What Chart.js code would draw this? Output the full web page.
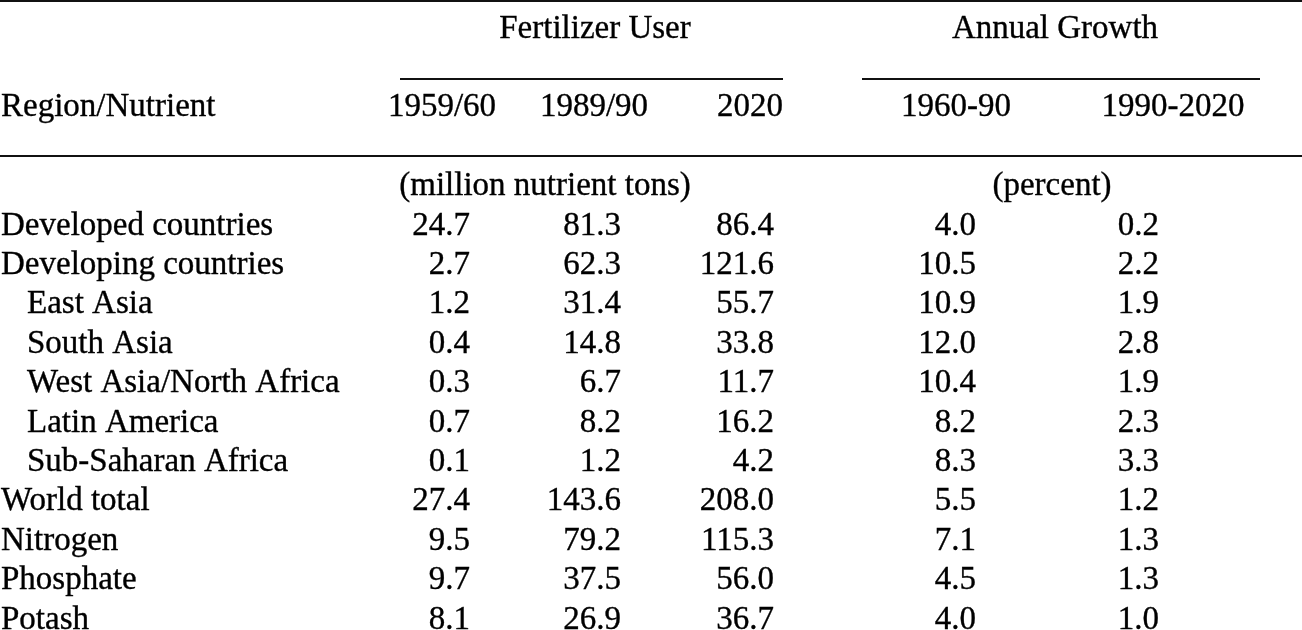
<!DOCTYPE html>
<html>
<head>
<meta charset="utf-8">
<script src="https://cdn.jsdelivr.net/npm/chart.js@4/dist/chart.umd.min.js"></script>
<style>
  html, body { margin: 0; padding: 0; background: #fff; }
  #wrap { width: 1302px; height: 630px; }
</style>
</head>
<body>
<div id="wrap"><canvas id="fertTable" width="1302" height="630"></canvas></div>
<script>
// table rows
const regions = [
  "Developed countries", "Developing countries", "East Asia", "South Asia",
  "West Asia/North Africa", "Latin America", "Sub-Saharan Africa",
  "World total", "Nitrogen", "Phosphate", "Potash"
];
const indented = [false, false, true, true, true, true, true, false, false, false, false];

// fertilizer use, million nutrient tons
const use1959 = [24.7, 2.7, 1.2, 0.4, 0.3, 0.7, 0.1, 27.4, 9.5, 9.7, 8.1];
const use1989 = [81.3, 62.3, 31.4, 14.8, 6.7, 8.2, 1.2, 143.6, 79.2, 37.5, 26.9];
const use2020 = [86.4, 121.6, 55.7, 33.8, 11.7, 16.2, 4.2, 208.0, 115.3, 56.0, 36.7];

// annual growth, percent
const growth6090 = [4.0, 10.5, 10.9, 12.0, 10.4, 8.2, 8.3, 5.5, 7.1, 4.5, 4.0];
const growth9020 = [0.2, 2.2, 1.9, 2.8, 1.9, 2.3, 3.3, 1.2, 1.3, 1.3, 1.0];

const groupLabels = ["Fertilizer User", "Annual Growth"];
const unitLabels = ["(million nutrient tons)", "(percent)"];
const yearLabels = ["1959/60", "1989/90", "2020"];
const growthLabels = ["1960-90", "1990-2020"];
const stubLabel = "Region/Nutrient";

// layout: x in pixels, y in row units (row i = data row, negatives = header)
const colRight = [470, 621, 774, 976, 1159];
const yearCenter = [442, 594, 750];
const growthCenter = [956, 1173];
const groupCenter = [595, 1055];
const unitCenter = [545, 1052];

const textColor = "#000";
const ruleColor = "#111";

function textSet(labels, xs, ys, align) {
  return {
    type: "scatter",
    data: labels.map((_, i) => ({ x: xs[i], y: ys[i] })),
    labels: labels,
    align: align,
    isText: true,
    pointRadius: 0,
    showLine: false
  };
}

function ruleSet(x0, x1, yv) {
  return {
    type: "scatter",
    data: [{ x: x0, y: yv }, { x: x1, y: yv }],
    showLine: true,
    borderColor: ruleColor,
    borderWidth: 2,
    pointRadius: 0
  };
}

const rowIdx = regions.map((_, i) => i);
const fmt = arr => arr.map(v => v.toFixed(1));

const datasets = [
  textSet(regions, regions.map((_, i) => indented[i] ? 27 : 1), rowIdx, "left"),
  textSet(fmt(use1959), rowIdx.map(() => colRight[0]), rowIdx, "right"),
  textSet(fmt(use1989), rowIdx.map(() => colRight[1]), rowIdx, "right"),
  textSet(fmt(use2020), rowIdx.map(() => colRight[2]), rowIdx, "right"),
  textSet(fmt(growth6090), rowIdx.map(() => colRight[3]), rowIdx, "right"),
  textSet(fmt(growth9020), rowIdx.map(() => colRight[4]), rowIdx, "right"),
  textSet(groupLabels, groupCenter, [-5, -5], "center"),
  textSet(yearLabels.concat(growthLabels), yearCenter.concat(growthCenter), [-3, -3, -3, -3, -3], "center"),
  textSet([stubLabel], [1], [-3], "left"),
  textSet(unitLabels, unitCenter, [-1, -1], "center"),
  ruleSet(0, 1302, -5.926),
  ruleSet(400, 783, -3.947),
  ruleSet(862, 1260, -3.947),
  ruleSet(0, 1302, -1.992)
];

// draws the cell texts at the positions the scales give each point
const cellText = {
  id: "cellText",
  afterDatasetsDraw(chart) {
    const ctx = chart.ctx;
    ctx.save();
    ctx.font = '33px "Liberation Serif", "Times New Roman", serif';
    ctx.fillStyle = textColor;
    ctx.strokeStyle = textColor;
    ctx.lineWidth = 0.35;
    ctx.textBaseline = "alphabetic";
    chart.data.datasets.forEach((ds, di) => {
      if (!ds.isText) return;
      const meta = chart.getDatasetMeta(di);
      ctx.textAlign = ds.align;
      meta.data.forEach((pt, i) => {
        ctx.fillText(ds.labels[i], pt.x, pt.y);
        ctx.strokeText(ds.labels[i], pt.x, pt.y);
      });
    });
    ctx.restore();
  }
};

// row spacing 39.4 px, first data baseline at 234.5 px
const yMin = -234.5 / 39.4;
const yMax = yMin + 630 / 39.4;

new Chart(document.getElementById("fertTable"), {
  type: "scatter",
  data: { datasets: datasets },
  options: {
    responsive: false,
    animation: false,
    layout: { padding: 0 },
    scales: {
      x: { type: "linear", min: 0, max: 1302, display: false },
      y: { type: "linear", min: yMin, max: yMax, reverse: true, display: false }
    },
    plugins: {
      legend: { display: false },
      tooltip: { enabled: false }
    }
  },
  plugins: [cellText]
});
</script>
</body>
</html>
